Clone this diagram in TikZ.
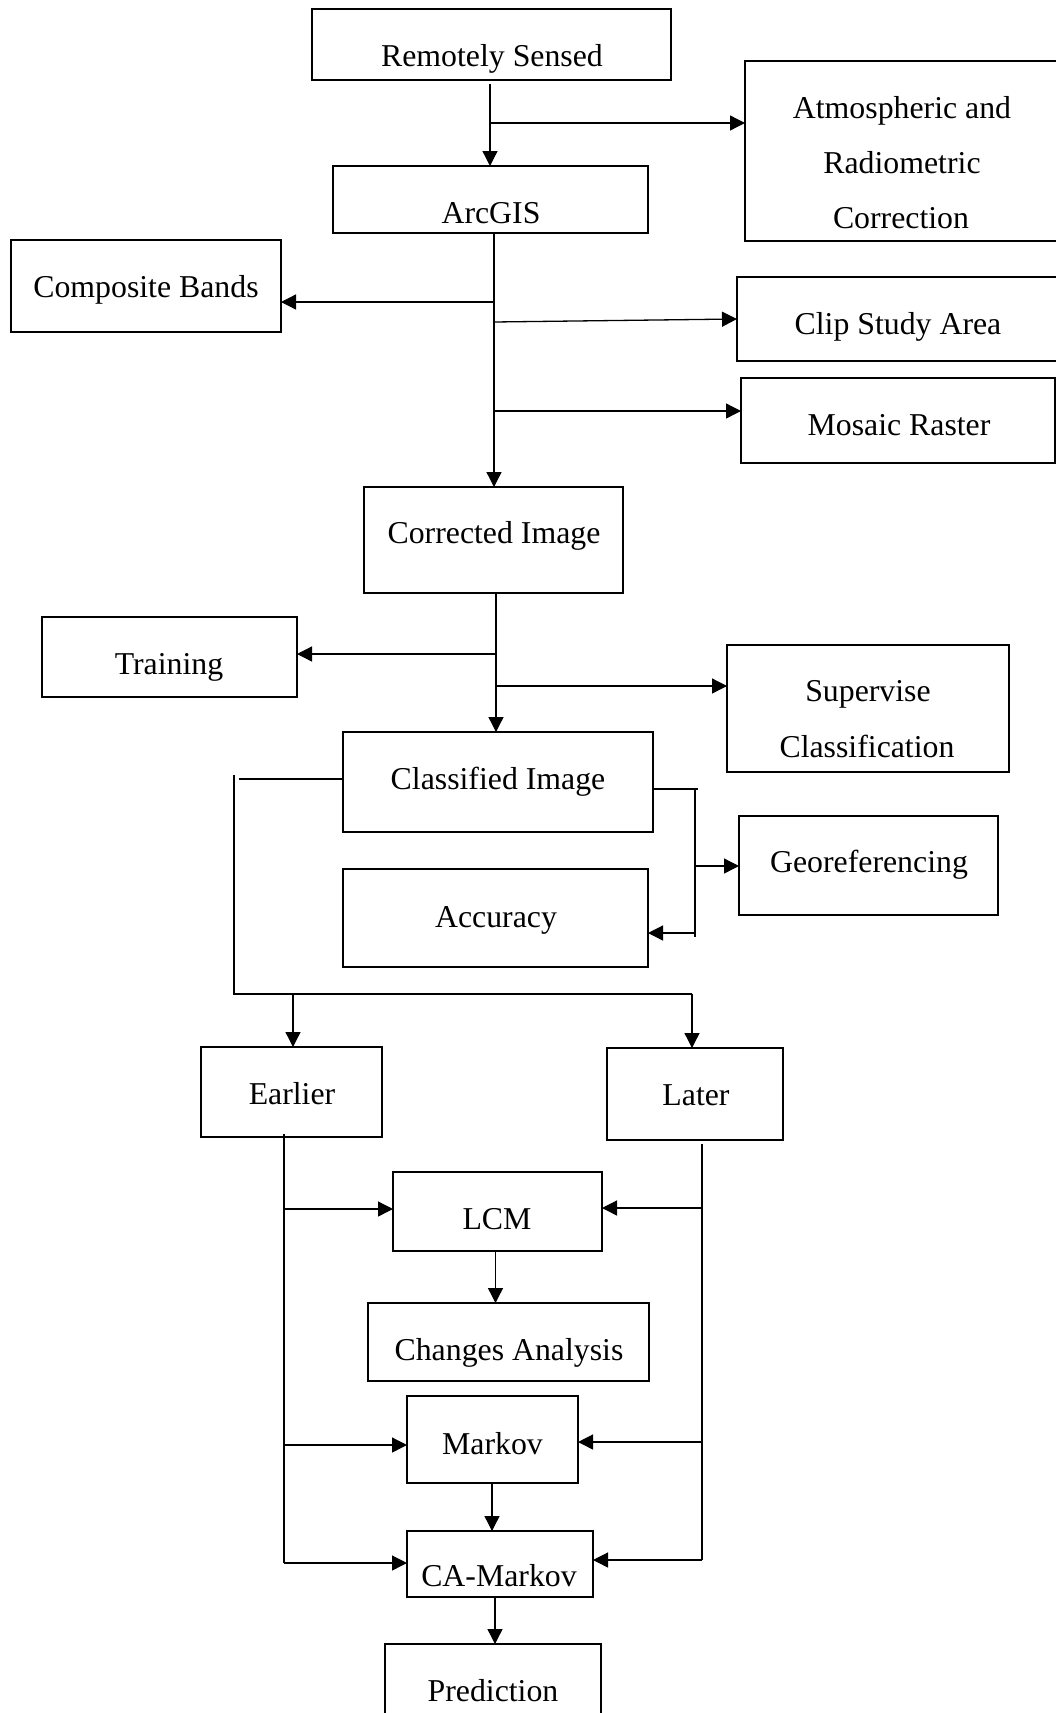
\documentclass[tikz,border=0pt]{standalone}
\usepackage{fontspec}
\setmainfont{Liberation Serif}
\usetikzlibrary{arrows.meta}
\tikzset{
  bx/.style={draw, line width=2.7pt, inner sep=0pt, outer sep=0pt},
  txt/.style={font=\fontsize{31.8pt}{38pt}\selectfont, inner sep=0pt, outer sep=0pt, anchor=base},
  ln/.style={line width=1.3pt},
  arr/.style={ln, -{Triangle[length=15pt,width=15pt]}}
}
\newcommand\mybox[5]{\node[bx, minimum width={#4pt-#2pt}, minimum height={#5pt-#3pt}] (#1) at ({(#2+#4)/2},{(#3+#5)/2}) {};}
\begin{document}
\begin{tikzpicture}[x=1pt,y=-1pt]
\useasboundingbox (0,0) rectangle (1056,1713);
% boxes
\mybox{RS}{312}{9}{671}{80}
\mybox{Atm}{745}{61}{1075}{241}
\mybox{Arc}{333}{166}{648}{233}
\mybox{Comp}{11}{240}{281}{332}
\mybox{Clip}{737}{277}{1075}{361}
\mybox{Mos}{741}{378}{1055}{463}
\mybox{Corr}{364}{487}{623}{593}
\mybox{Train}{42}{617}{297}{697}
\mybox{Sup}{727}{645}{1009}{772}
\mybox{Class}{343}{732}{653}{832}
\mybox{Geo}{739}{816}{998}{915}
\mybox{Acc}{343}{869}{648}{967}
\mybox{Earl}{201}{1047}{382}{1137}
\mybox{Later}{607}{1048}{783}{1140}
\mybox{LCM}{393}{1172}{602}{1251}
\mybox{Chg}{368}{1303}{649}{1381}
\mybox{Mkv}{407}{1396}{578}{1483}
\mybox{CAM}{407}{1531}{593}{1597}
\mybox{Pred}{385}{1644}{601}{1730}
% texts
\node[txt] (tRS) at (492,66) {Remotely Sensed};
\node[txt] (tAtm1) at (902,118) {Atmospheric and};
\node[txt] (tAtm2) at (902,173) {Radiometric};
\node[txt] (tAtm3) at (901,228) {Correction};
\node[txt] (tArc) at (491,223) {ArcGIS};
\node[txt] (tComp) at (146,297) {Composite Bands};
\node[txt] (tClip) at (898,334) {Clip Study Area};
\node[txt] (tMos) at (899,435) {Mosaic Raster};
\node[txt] (tCorr) at (494,543) {Corrected Image};
\node[txt] (tTrain) at (169,674) {Training};
\node[txt] (tSup1) at (868,701) {Supervise};
\node[txt] (tSup2) at (867,757) {Classification};
\node[txt] (tClass) at (498,789) {Classified Image};
\node[txt] (tGeo) at (869,872) {Georeferencing};
\node[txt] (tAcc) at (496,927) {Accuracy};
\node[txt] (tEarl) at (292,1104) {Earlier};
\node[txt] (tLater) at (696,1105) {Later};
\node[txt] (tLCM) at (497,1229) {LCM};
\node[txt] (tChg) at (509,1360) {Changes Analysis};
\node[txt] (tMkv) at (492.5,1454) {Markov};
\node[txt] (tCAM) at (499,1586) {CA-Markov};
\node[txt] (tPred) at (493,1701) {Prediction};
% junction coordinates
\coordinate (a0) at (490,84);
\coordinate (a1) at (490,123);
\coordinate (b0) at (494,233);
\coordinate (b1) at (494,302);
\coordinate (b2) at (494,322);
\coordinate (b3) at (494,411);
\coordinate (c0) at (496,593);
\coordinate (c1) at (496,654);
\coordinate (c2) at (496,686);
\coordinate (d1) at (239,779);
\coordinate (d2) at (234,775);
\coordinate (d3) at (234,994);
\coordinate (d4) at (692,994);
\coordinate (d5) at (293,994);
\coordinate (e1) at (698,789);
\coordinate (e2) at (695,789);
\coordinate (e3) at (695,937);
\coordinate (e4) at (695,866);
\coordinate (e5) at (695,933);
\coordinate (f0) at (284,1134);
\coordinate (f1) at (284,1209);
\coordinate (f2) at (284,1445);
\coordinate (f3) at (284,1563);
\coordinate (g0) at (702,1144);
\coordinate (g1) at (702,1208);
\coordinate (g2) at (702,1442);
\coordinate (g3) at (702,1560);
% connectors
\draw[arr] (a0) -- (Arc.north -| a0);
\draw[arr] (a1) -- (Atm.west |- a1);
\draw[arr] (b0) -- (Corr.north -| b0);
\draw[arr] (b1) -- (Comp.east |- b1);
\draw[arr] (b2) -- (Clip.west);
\draw[arr] (b3) -- (Mos.west |- b3);
\draw[arr] (c0) -- (Class.north -| c0);
\draw[arr] (c1) -- (Train.east |- c1);
\draw[arr] (c2) -- (Sup.west |- c2);
\draw[ln] (Class.west |- d1) -- (d1);
\draw[ln] (d2) -- (d3) -- (d4);
\draw[arr] (d5) -- (Earl.north -| d5);
\draw[arr] (d4) -- (Later.north -| d4);
\draw[ln] (Class.east |- e1) -- (e1);
\draw[ln] (e2) -- (e3);
\draw[arr] (e4) -- (Geo.west |- e4);
\draw[arr] (e5) -- (Acc.east |- e5);
\draw[ln] (f0) -- (f3);
\draw[arr] (f1) -- (LCM.west |- f1);
\draw[arr] (f2) -- (Mkv.west |- f2);
\draw[arr] (f3) -- (CAM.west |- f3);
\draw[ln] (g0) -- (g3);
\draw[arr] (g1) -- (LCM.east |- g1);
\draw[arr] (g2) -- (Mkv.east |- g2);
\draw[arr] (g3) -- (CAM.east |- g3);
\draw[arr] ([xshift=-2pt]LCM.south) -- ([xshift=-2pt]Chg.north -| LCM.south);
\draw[arr] ([xshift=-0.5pt]Mkv.south) -- ([xshift=-0.5pt]CAM.north -| Mkv.south);
\draw[arr] ([xshift=-5pt]CAM.south) -- ([xshift=-5pt]Pred.north -| CAM.south);
\end{tikzpicture}
\end{document}
